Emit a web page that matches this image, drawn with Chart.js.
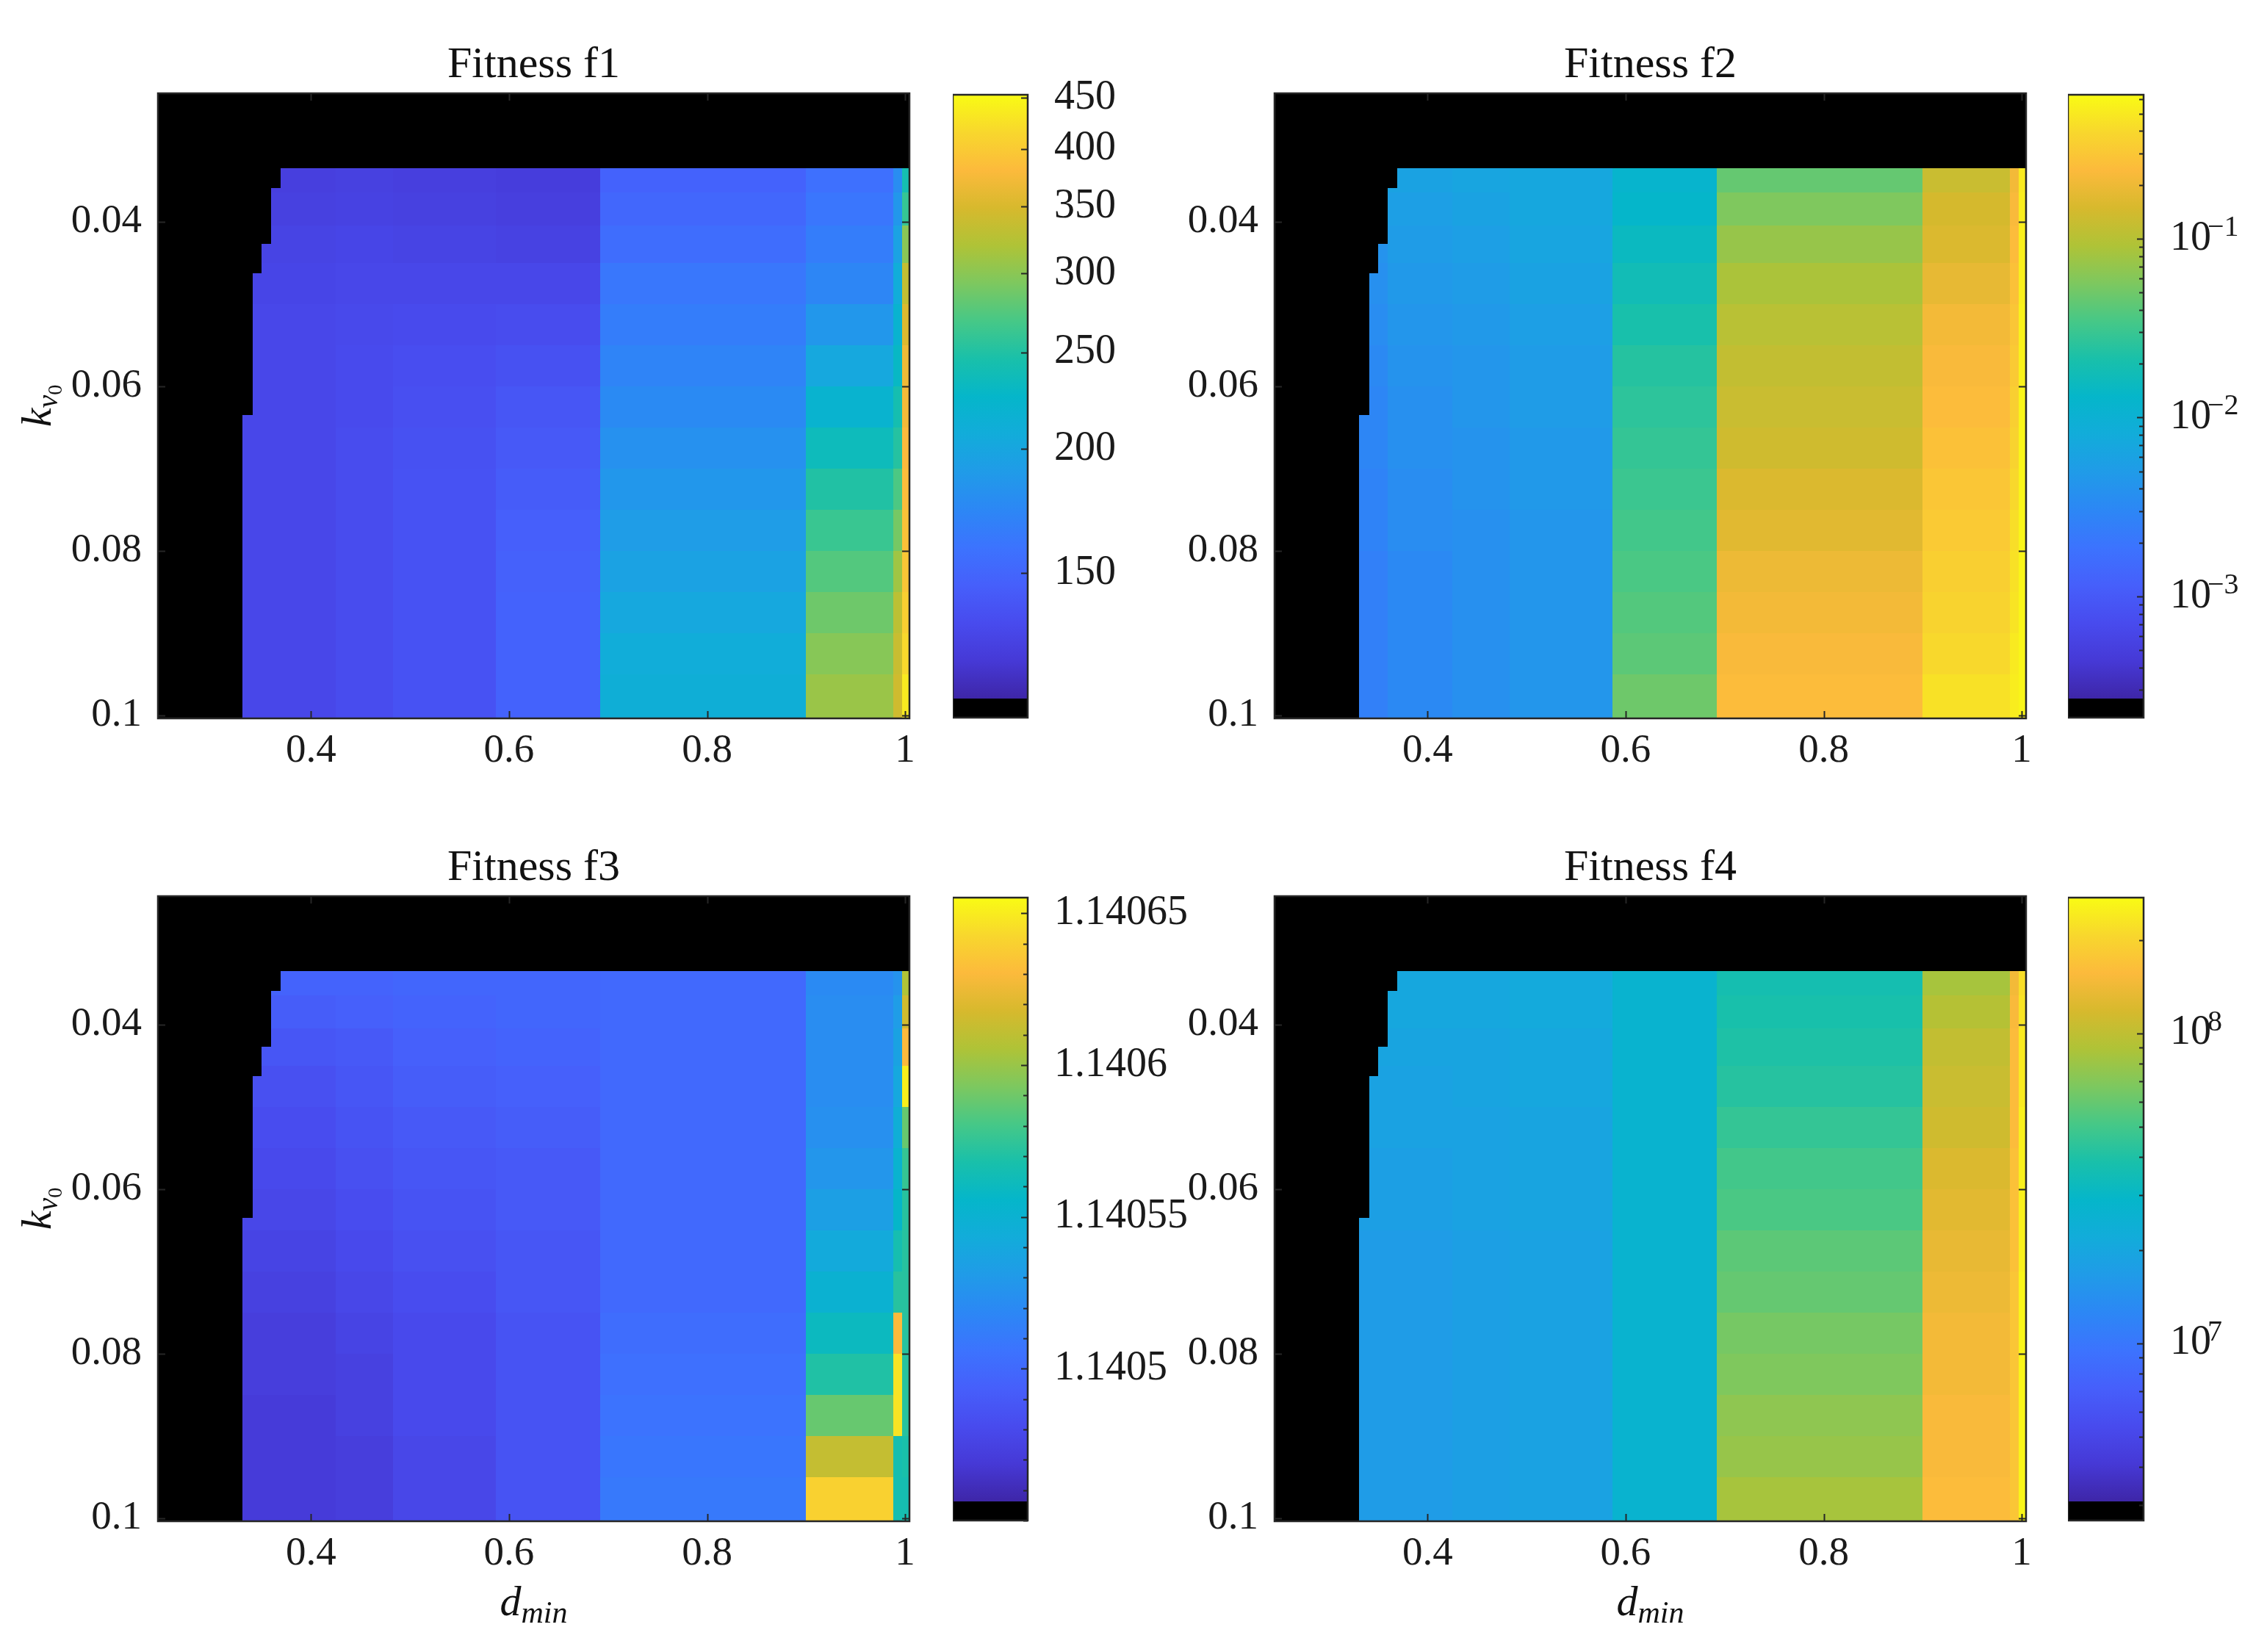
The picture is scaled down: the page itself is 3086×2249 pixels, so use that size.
<!DOCTYPE html>
<html>
<head>
<meta charset="utf-8">
<title>Fitness maps over d_min and k_v0</title>
<script src="https://cdn.jsdelivr.net/npm/chart.js@4.4.1/dist/chart.umd.min.js"></script>
<style>
  html, body { margin: 0; padding: 0; background: #fff; }
  body { width: 3086px; height: 2249px; position: relative; overflow: hidden; }
  canvas { position: absolute; }
</style>
</head>
<body>
<canvas id="f1Map"></canvas>
<canvas id="f1Bar"></canvas>
<canvas id="f2Map"></canvas>
<canvas id="f2Bar"></canvas>
<canvas id="f3Map"></canvas>
<canvas id="f3Bar"></canvas>
<canvas id="f4Map"></canvas>
<canvas id="f4Bar"></canvas>
<script>
// Sweep of d_min (across) and k_v0 (down), four fitness maps

const dRange = [0.2454, 1.0044];
const kRange = [0.0244, 0.1004];
const dTicks = [0.4, 0.6, 0.8, 1];
const kTicks = [0.04, 0.06, 0.08, 0.1];

// band edges along d_min, and row edges along k_v0 (shared by the four maps)
const dEdges = [0.3306, 0.36, 0.425, 0.483, 0.587, 0.692, 0.900, 0.988, 0.997, 1.0044];
const kEdges = [0.0335, 0.0365, 0.0405, 0.045, 0.05, 0.055, 0.06, 0.065, 0.07, 0.075, 0.08, 0.085, 0.09, 0.095, 0.1004];

// no result there (drawn black): [kFrom, kTo, d up to]
const nanSteps = [
    [0.0244, 0.0335, 1.0044],
    [0.0335, 0.0359, 0.369],
    [0.0359, 0.0427, 0.3598],
    [0.0427, 0.0463, 0.3499],
    [0.0463, 0.0635, 0.341],
    [0.0635, 0.1004, 0.3306]
];

// one array per d_min band, one value per k_v0 row
const f1Values = [
    [126, 127, 129, 130, 131, 131, 131, 131, 131, 131, 131, 131, 131, 131],
    [126, 127, 129, 130, 131, 131, 131, 131, 131, 131, 131, 131, 131, 131],
    [127, 128, 130, 131, 132, 133, 133, 134, 134, 134, 134, 134, 134, 134],
    [126, 127, 129, 131, 133, 135, 136, 137, 138, 138, 138, 138, 138, 138],
    [125, 126, 128, 131, 134, 137, 140, 142, 144, 146, 147, 148, 148, 148],
    [148, 151, 155, 162, 166, 171, 176, 181, 186, 191, 196, 202, 208, 211],
    [157, 161, 166, 173, 186, 202, 219, 235, 250, 262, 274, 286, 298, 308],
    [178, 186, 196, 208, 220, 229, 242, 252, 271, 290, 311, 329, 338, 343],
    [242, 260, 299, 334, 353, 368, 373, 381, 384, 389, 395, 406, 417, 435]
];

const f2Values = [
    [0.00475, 0.0044, 0.00407, 0.00376, 0.00348, 0.00322, 0.00298, 0.00298, 0.00276, 0.00276, 0.00255, 0.00255, 0.00255, 0.00255],
    [0.0060, 0.00555, 0.00514, 0.00475, 0.0044, 0.00407, 0.00376, 0.00376, 0.00348, 0.00348, 0.00322, 0.00322, 0.00322, 0.00322],
    [0.00649, 0.0060, 0.00555, 0.00514, 0.00475, 0.0044, 0.0044, 0.00407, 0.00407, 0.00376, 0.00376, 0.00376, 0.00376, 0.00376],
    [0.00701, 0.00701, 0.00649, 0.0060, 0.00555, 0.00514, 0.00514, 0.00475, 0.00475, 0.0044, 0.0044, 0.0044, 0.0044, 0.0044],
    [0.0121, 0.0131, 0.0153, 0.0178, 0.0208, 0.0243, 0.0263, 0.0284, 0.0307, 0.0332, 0.0359, 0.0388, 0.0419, 0.049],
    [0.0453, 0.0572, 0.0723, 0.0878, 0.1025, 0.1152, 0.1245, 0.1346, 0.1573, 0.170, 0.1986, 0.2147, 0.232, 0.2508],
    [0.1245, 0.1455, 0.1573, 0.1837, 0.2147, 0.232, 0.2508, 0.271, 0.293, 0.3167, 0.3422, 0.3699, 0.3999, 0.4494],
    [0.2147, 0.232, 0.2508, 0.271, 0.293, 0.3167, 0.3422, 0.3699, 0.3999, 0.4322, 0.4494, 0.4671, 0.5049, 0.5249],
    [0.5049, 0.5249, 0.5456, 0.5456, 0.5673, 0.5673, 0.5897, 0.5897, 0.5897, 0.5897, 0.5897, 0.5897, 0.5897, 0.5897]
];

const f3Values = [
    [1.140496, 1.140492, 1.140488, 1.140484, 1.140482, 1.140480, 1.140478, 1.140476, 1.140474, 1.140472, 1.140472, 1.140470, 1.140470, 1.140470],
    [1.140496, 1.140492, 1.140488, 1.140484, 1.140482, 1.140480, 1.140478, 1.140476, 1.140474, 1.140472, 1.140472, 1.140470, 1.140470, 1.140470],
    [1.140496, 1.140494, 1.140490, 1.140488, 1.140486, 1.140484, 1.140482, 1.140480, 1.140478, 1.140476, 1.140474, 1.140474, 1.140472, 1.140472],
    [1.140498, 1.140496, 1.140494, 1.140492, 1.140490, 1.140488, 1.140486, 1.140484, 1.140482, 1.140480, 1.140480, 1.140480, 1.140478, 1.140478],
    [1.140498, 1.140498, 1.140496, 1.140494, 1.140492, 1.140490, 1.140490, 1.140488, 1.140488, 1.140486, 1.140486, 1.140486, 1.140486, 1.140486],
    [1.140500, 1.140500, 1.140500, 1.140500, 1.140500, 1.140500, 1.140500, 1.140500, 1.140500, 1.140502, 1.140504, 1.140506, 1.140508, 1.140510],
    [1.140520, 1.140522, 1.140522, 1.140522, 1.140524, 1.140528, 1.140534, 1.140542, 1.140550, 1.140560, 1.140570, 1.140588, 1.140612, 1.140640],
    [1.140526, 1.140532, 1.140536, 1.140540, 1.140546, 1.140552, 1.140556, 1.140566, 1.140572, 1.140630, 1.140647, 1.140647, 1.140566, 1.140566],
    [1.140606, 1.140616, 1.140630, 1.140651, 1.140588, 1.140576, 1.140572, 1.140572, 1.140572, 1.140572, 1.140572, 1.140572, 1.140568, 1.140566]
];

const f4Values = [
    [2.03e7, 2.03e7, 1.94e7, 1.86e7, 1.86e7, 1.78e7, 1.78e7, 1.70e7, 1.70e7, 1.70e7, 1.70e7, 1.70e7, 1.70e7, 1.70e7],
    [2.03e7, 2.03e7, 1.94e7, 1.86e7, 1.86e7, 1.78e7, 1.78e7, 1.70e7, 1.70e7, 1.70e7, 1.70e7, 1.70e7, 1.70e7, 1.70e7],
    [2.03e7, 2.03e7, 1.94e7, 1.94e7, 1.86e7, 1.86e7, 1.86e7, 1.78e7, 1.78e7, 1.78e7, 1.78e7, 1.78e7, 1.78e7, 1.78e7],
    [2.13e7, 2.13e7, 2.03e7, 2.03e7, 1.94e7, 1.94e7, 1.94e7, 1.86e7, 1.86e7, 1.86e7, 1.86e7, 1.86e7, 1.86e7, 1.86e7],
    [2.66e7, 2.66e7, 2.66e7, 2.66e7, 2.66e7, 2.66e7, 2.66e7, 2.66e7, 2.66e7, 2.66e7, 2.66e7, 2.66e7, 2.66e7, 2.66e7],
    [3.64e7, 3.82e7, 3.98e7, 4.16e7, 4.56e7, 4.98e7, 5.21e7, 5.70e7, 5.96e7, 6.52e7, 6.82e7, 7.46e7, 7.81e7, 8.54e7],
    [8.54e7, 9.34e7, 1.02e8, 1.07e8, 1.12e8, 1.22e8, 1.28e8, 1.34e8, 1.40e8, 1.46e8, 1.46e8, 1.53e8, 1.53e8, 1.60e8],
    [1.46e8, 1.53e8, 1.60e8, 1.60e8, 1.60e8, 1.67e8, 1.67e8, 1.67e8, 1.75e8, 1.75e8, 1.75e8, 1.75e8, 1.75e8, 1.75e8],
    [2.19e8, 2.29e8, 2.40e8, 2.40e8, 2.51e8, 2.51e8, 2.51e8, 2.51e8, 2.62e8, 2.62e8, 2.62e8, 2.62e8, 2.62e8, 2.62e8]
];

// colorbar ticks and labels (exponent drawn raised next to the "10")
const f1BarTicks = [150, 200, 250, 300, 350, 400, 450];
const f1BarLabels = ['150', '200', '250', '300', '350', '400', '450'];
const f2BarTicks = [1e-3, 1e-2, 1e-1];
const f2BarLabels = ['10', '10', '10'];
const f2BarPowers = ['\u22123', '\u22122', '\u22121'];
const f3BarTicks = [1.1405, 1.14055, 1.1406, 1.14065];
const f3BarLabels = ['1.1405', '1.14055', '1.1406', '1.14065'];
const f4BarTicks = [1e7, 1e8];
const f4BarLabels = ['10', '10'];
const f4BarPowers = ['7', '8'];

// ---------------------------------------------------------------------------

const LEVELS = 33; // one slot of black for missing + 32 of parula
const INK = '#262626';
const SERIF = "'Liberation Serif', 'DejaVu Serif', serif";
const LABEL_PAD = 28;
Chart.defaults.font.family = SERIF;
Chart.defaults.color = '#1a1a1a';

const PARULA = [
    [62, 38, 168], [70, 57, 214], [72, 75, 238], [70, 95, 251], [60, 115, 254],
    [44, 135, 245], [32, 155, 232], [18, 172, 218], [5, 182, 202], [25, 192, 170],
    [70, 200, 135], [125, 200, 95], [175, 195, 55], [215, 185, 45], [252, 186, 60],
    [248, 215, 45], [249, 251, 20]
];

function parula(t) {
    t = Math.min(1, Math.max(0, t));
    const p = t * (PARULA.length - 1);
    const i = Math.min(PARULA.length - 2, Math.floor(p));
    const f = p - i;
    const a = PARULA[i], b = PARULA[i + 1];
    const c = [0, 1, 2].map(n => Math.round(a[n] + (b[n] - a[n]) * f));
    return `rgb(${c[0]},${c[1]},${c[2]})`;
}

function toUnit(cb, v) {
    const f = cb.type === 'logarithmic' ? Math.log10 : (u => u);
    return (f(v) - f(cb.min)) / (f(cb.max) - f(cb.min));
}

function fromUnit(cb, t) {
    if (cb.type === 'logarithmic') {
        const lo = Math.log10(cb.min), hi = Math.log10(cb.max);
        return Math.pow(10, lo + t * (hi - lo));
    }
    return cb.min + t * (cb.max - cb.min);
}

// position inside the coloured part of the bar (above the black slot)
function cellColor(cb, v) {
    return parula((toUnit(cb, v) * LEVELS - 1) / (LEVELS - 1));
}

// text with italic / subscript pieces, centred on (0,0) of the current transform
function drawScript(ctx, parts) {
    let w = 0;
    parts.forEach(p => {
        ctx.font = `${p.italic ? 'italic ' : ''}${p.size}px ${SERIF}`;
        p.w = ctx.measureText(p.t).width;
        w += p.w;
    });
    let x = -w / 2;
    ctx.textBaseline = 'alphabetic';
    ctx.textAlign = 'left';
    ctx.fillStyle = '#111';
    parts.forEach(p => {
        ctx.font = `${p.italic ? 'italic ' : ''}${p.size}px ${SERIF}`;
        ctx.fillText(p.t, x, p.dy);
        x += p.w;
    });
}

const panels = [
    { key: 'f1', title: 'Fitness f1', values: f1Values, left: 0, top: 0, yTitle: true, xTitle: false,
      bar: { type: 'logarithmic', min: 107.4, max: 453.4, ticks: f1BarTicks, labels: f1BarLabels, minor: 'none' } },
    { key: 'f2', title: 'Fitness f2', values: f2Values, left: 1520, top: 0, yTitle: false, xTitle: false,
      bar: { type: 'logarithmic', min: 2.1e-4, max: 0.638, ticks: f2BarTicks, labels: f2BarLabels, powers: f2BarPowers, minor: 'log' } },
    { key: 'f3', title: 'Fitness f3', values: f3Values, left: 0, top: 1093, yTitle: true, xTitle: true,
      bar: { type: 'linear', min: 1.14045, max: 1.1406552, ticks: f3BarTicks, labels: f3BarLabels, minor: 'step', step: 1e-5 } },
    { key: 'f4', title: 'Fitness f4', values: f4Values, left: 1520, top: 1093, yTitle: false, xTitle: true,
      bar: { type: 'logarithmic', min: 2.68e6, max: 2.74e8, ticks: f4BarTicks, labels: f4BarLabels, powers: f4BarPowers, minor: 'log' } }
];

function heatPlugin(panel) {
    return {
        id: 'heat_' + panel.key,
        beforeDatasetsDraw(chart) {
            const { ctx, chartArea: a, scales: { x, y } } = chart;
            ctx.save();
            panel.values.forEach((col, j) => {
                const x0 = Math.round(x.getPixelForValue(dEdges[j]));
                const x1 = Math.round(x.getPixelForValue(dEdges[j + 1]));
                col.forEach((v, i) => {
                    const y0 = Math.round(y.getPixelForValue(kEdges[i]));
                    const y1 = Math.round(y.getPixelForValue(kEdges[i + 1]));
                    ctx.fillStyle = cellColor(panel.bar, v);
                    ctx.fillRect(x0, y0, x1 - x0, y1 - y0);
                });
            });
            ctx.fillStyle = '#000';
            nanSteps.forEach(([k0, k1, d]) => {
                const y0 = Math.round(y.getPixelForValue(k0));
                const y1 = Math.round(y.getPixelForValue(k1));
                const x1 = Math.round(x.getPixelForValue(d));
                ctx.fillRect(a.left, y0, x1 - a.left, y1 - y0);
            });
            ctx.restore();
        },
        afterDraw(chart) {
            const { ctx, chartArea: a, scales: { x, y } } = chart;
            ctx.save();
            ctx.strokeStyle = INK;
            ctx.lineWidth = 2;
            ctx.beginPath();
            dTicks.forEach(v => {
                const px = Math.round(x.getPixelForValue(v)) + 0.5;
                ctx.moveTo(px, a.bottom); ctx.lineTo(px, a.bottom - 10);
                ctx.moveTo(px, a.top); ctx.lineTo(px, a.top + 10);
            });
            kTicks.forEach(v => {
                const py = Math.round(y.getPixelForValue(v)) + 0.5;
                ctx.moveTo(a.left, py); ctx.lineTo(a.left + 10, py);
                ctx.moveTo(a.right, py); ctx.lineTo(a.right - 10, py);
            });
            ctx.stroke();
            ctx.lineWidth = 2.5;
            ctx.strokeRect(a.left, a.top, a.right - a.left, a.bottom - a.top);

            // title
            ctx.font = `60px ${SERIF}`;
            ctx.fillStyle = '#111';
            ctx.textAlign = 'center';
            ctx.textBaseline = 'alphabetic';
            ctx.fillText(panel.title, (a.left + a.right) / 2, a.top - 22);

            if (panel.xTitle) {
                ctx.save();
                ctx.translate((a.left + a.right) / 2, a.bottom + 128);
                drawScript(ctx, [
                    { t: 'd', size: 58, italic: true, dy: 0 },
                    { t: 'min', size: 42, italic: true, dy: 10 }
                ]);
                ctx.restore();
            }
            if (panel.yTitle) {
                ctx.save();
                ctx.translate(a.left - 146, (a.top + a.bottom) / 2);
                ctx.rotate(-Math.PI / 2);
                drawScript(ctx, [
                    { t: 'k', size: 58, italic: true, dy: 0 },
                    { t: 'v', size: 40, italic: true, dy: 9 },
                    { t: '0', size: 28, italic: false, dy: 15 }
                ]);
                ctx.restore();
            }
            ctx.restore();
        }
    };
}

function minorTicks(bar) {
    const out = [];
    if (bar.minor === 'log') {
        const e0 = Math.floor(Math.log10(bar.min)), e1 = Math.ceil(Math.log10(bar.max));
        for (let e = e0; e <= e1; e++) {
            for (let m = 2; m <= 9; m++) {
                const v = m * Math.pow(10, e);
                if (v > bar.min && v < bar.max) out.push(v);
            }
        }
    } else if (bar.minor === 'step') {
        const n0 = Math.ceil(bar.min / bar.step), n1 = Math.floor(bar.max / bar.step);
        for (let n = n0; n <= n1; n++) out.push(n * bar.step);
    }
    return out;
}

function barPlugin(panel) {
    const bar = panel.bar;
    return {
        id: 'bar_' + panel.key,
        beforeDatasetsDraw(chart) {
            const { ctx, chartArea: a, scales: { y } } = chart;
            ctx.save();
            const yBlack = Math.round(y.getPixelForValue(fromUnit(bar, 1 / LEVELS)));
            ctx.fillStyle = '#000';
            ctx.fillRect(a.left, yBlack, a.right - a.left, a.bottom - yBlack);
            const grad = ctx.createLinearGradient(0, yBlack, 0, a.top);
            PARULA.forEach((c, i) => grad.addColorStop(i / (PARULA.length - 1), `rgb(${c[0]},${c[1]},${c[2]})`));
            ctx.fillStyle = grad;
            ctx.fillRect(a.left, a.top, a.right - a.left, yBlack - a.top);
            ctx.restore();
        },
        afterDraw(chart) {
            const { ctx, chartArea: a, scales: { y } } = chart;
            ctx.save();
            ctx.strokeStyle = INK;
            ctx.lineWidth = 2;
            ctx.beginPath();
            minorTicks(bar).forEach(v => {
                const py = Math.round(y.getPixelForValue(v)) + 0.5;
                ctx.moveTo(a.right, py); ctx.lineTo(a.right - 6, py);
            });
            bar.ticks.forEach(v => {
                const py = Math.round(y.getPixelForValue(v)) + 0.5;
                ctx.moveTo(a.right, py); ctx.lineTo(a.right - 9, py);
            });
            ctx.stroke();
            ctx.lineWidth = 2.5;
            ctx.strokeRect(a.left, a.top, a.right - a.left, a.bottom - a.top);

            if (bar.powers) {
                ctx.fillStyle = '#1a1a1a';
                ctx.textAlign = 'left';
                ctx.textBaseline = 'alphabetic';
                bar.ticks.forEach((v, i) => {
                    ctx.font = `56px ${SERIF}`;
                    const w = ctx.measureText(bar.labels[i]).width;
                    const py = y.getPixelForValue(v);
                    ctx.font = `40px ${SERIF}`;
                    ctx.fillText(bar.powers[i], a.right + LABEL_PAD + w + 3, py - 4);
                });
            }
            ctx.restore();
        }
    };
}

function makeMap(panel) {
    const canvas = document.getElementById(panel.key + 'Map');
    canvas.width = 1260;
    canvas.height = panel.top === 0 ? 1093 : 1156;
    canvas.style.left = panel.left + 'px';
    canvas.style.top = panel.top + 'px';
    const tickFont = { size: 55, family: SERIF };
    new Chart(canvas, {
        type: 'scatter',
        data: { datasets: [] },
        options: {
            responsive: false,
            animation: false,
            events: [],
            layout: { padding: { left: 0, top: 127, right: 22, bottom: canvas.height - 978 - 90 } },
            plugins: { legend: { display: false }, tooltip: { enabled: false }, title: { display: false } },
            scales: {
                x: {
                    type: 'linear', min: dRange[0], max: dRange[1],
                    grid: { display: false }, border: { display: false },
                    afterBuildTicks: s => { s.ticks = dTicks.map(v => ({ value: v })); },
                    afterFit: s => { s.height = 90; },
                    ticks: { font: tickFont, color: '#1a1a1a', padding: 4, maxRotation: 0, autoSkip: false,
                             callback: v => String(+v.toFixed(4)) }
                },
                y: {
                    type: 'linear', reverse: true, min: kRange[0], max: kRange[1],
                    grid: { display: false }, border: { display: false },
                    afterBuildTicks: s => { s.ticks = kTicks.map(v => ({ value: v })); },
                    afterFit: s => { s.width = 215; },
                    ticks: { font: tickFont, color: '#1a1a1a', padding: 14, autoSkip: false,
                             callback: v => String(+v.toFixed(4)) }
                }
            }
        },
        plugins: [heatPlugin(panel)]
    });
}

function makeBar(panel) {
    const bar = panel.bar;
    const canvas = document.getElementById(panel.key + 'Bar');
    const left = panel.left === 0 ? 1297 : 2815;
    const barWidth = panel.left === 0 ? 102 : 103;
    canvas.width = panel.left === 0 ? 340 : 271;
    canvas.height = panel.top === 0 ? 1093 : 1156;
    canvas.style.left = left + 'px';
    canvas.style.top = panel.top + 'px';
    new Chart(canvas, {
        type: 'scatter',
        data: { datasets: [] },
        options: {
            responsive: false,
            animation: false,
            events: [],
            layout: { padding: { left: 0, top: 129, right: 0, bottom: canvas.height - 977 } },
            plugins: { legend: { display: false }, tooltip: { enabled: false } },
            scales: {
                x: { type: 'linear', min: 0, max: 1, display: false },
                y: {
                    type: bar.type, position: 'right', min: bar.min, max: bar.max,
                    grid: { display: false }, border: { display: false },
                    afterBuildTicks: s => { s.ticks = bar.ticks.map(v => ({ value: v })); },
                    afterFit: s => { s.width = canvas.width - barWidth; },
                    ticks: { font: { size: 56, family: SERIF }, color: '#1a1a1a', padding: LABEL_PAD, autoSkip: false,
                             callback: (v, i) => bar.labels[i] }
                }
            }
        },
        plugins: [barPlugin(panel)]
    });
}

panels.forEach(p => { makeMap(p); makeBar(p); });
</script>
</body>
</html>
